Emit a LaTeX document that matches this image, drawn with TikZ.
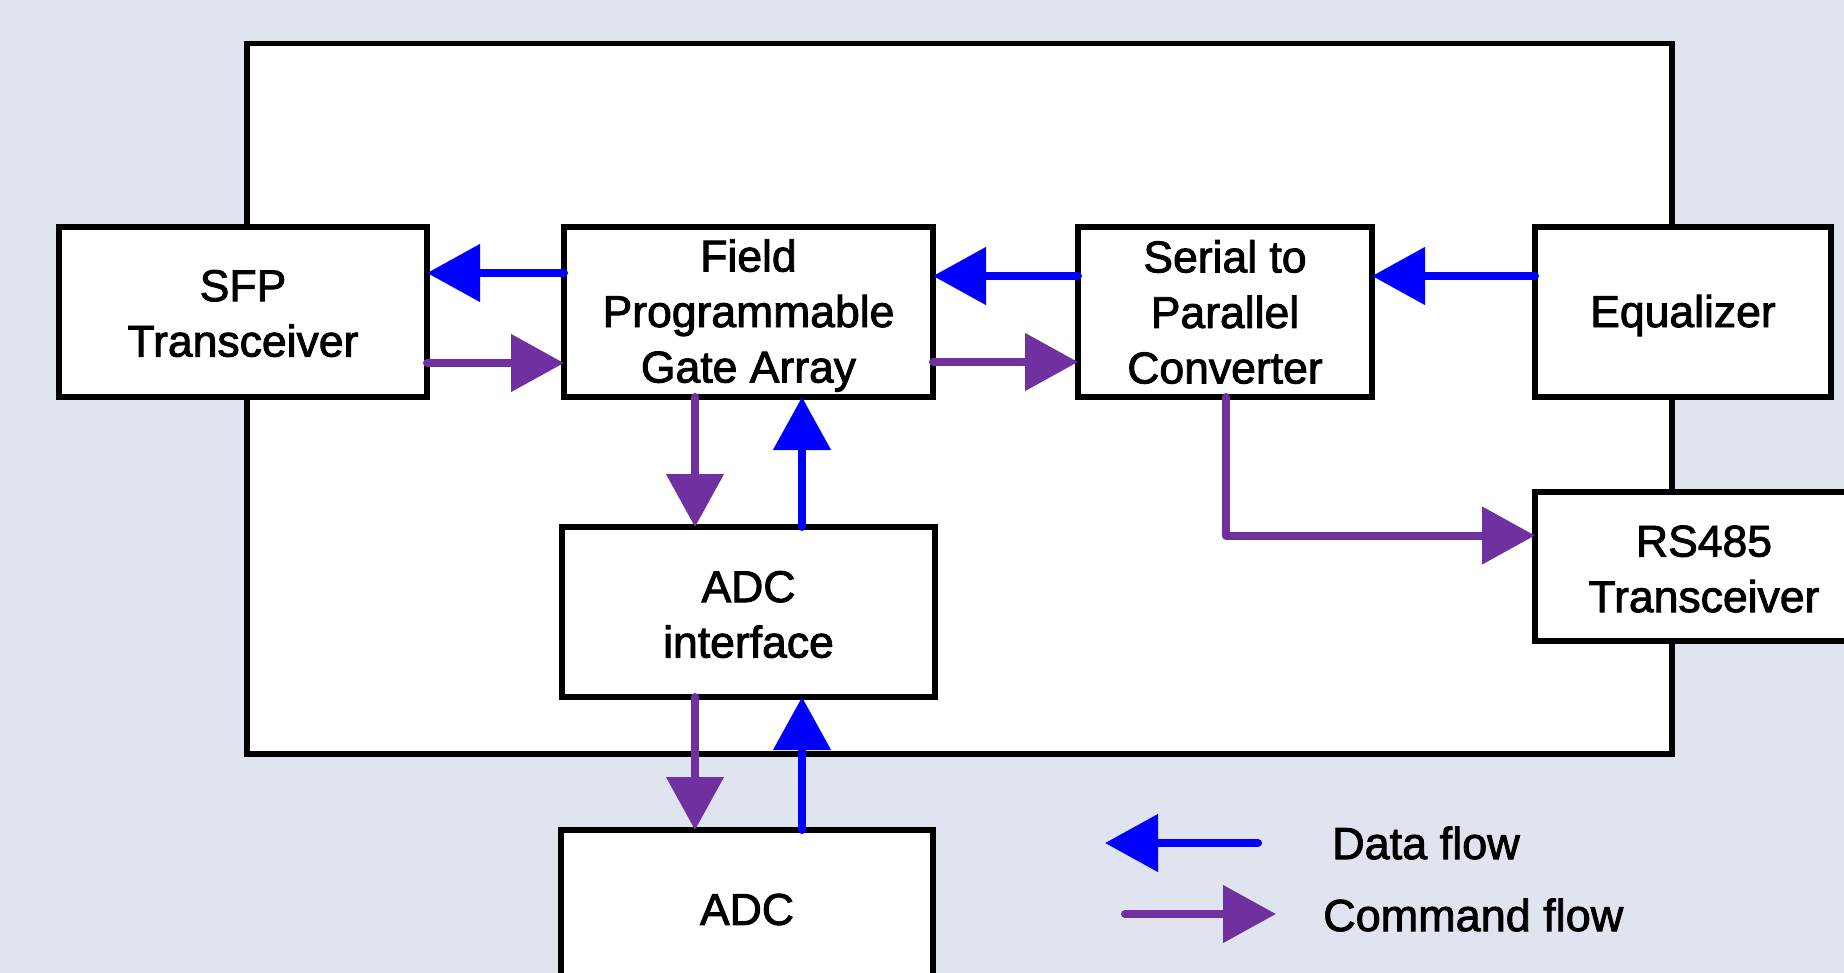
\documentclass[tikz,border=0pt]{standalone}
\usepackage{fontspec}
\setmainfont{Liberation Sans}
\newfontfamily\diagfont{Liberation Sans}[FakeBold=2]
\usetikzlibrary{arrows.meta,calc}
\definecolor{bgc}{RGB}{224,228,238}
\definecolor{dataC}{RGB}{0,0,255}
\definecolor{cmdC}{RGB}{112,48,160}
\tikzset{
  blk/.style={draw=black, line width=5.5pt, fill=white, inner sep=0pt, outer sep=0pt},
  btext/.style={yshift=-3.5pt, inner sep=0pt, align=center,
    font=\diagfont\fontsize{44.5}{55.5}\selectfont},
  dataarrow/.style={draw=dataC, line width=8pt, line cap=round,
    -{Triangle[length=53pt,width=56pt,fill=dataC]}},
  cmdarrow/.style={draw=cmdC, line width=8pt, line cap=round, line join=round,
    -{Triangle[length=53pt,width=56pt,fill=cmdC]}},
  legtext/.style={anchor=west, inner sep=0pt, font=\diagfont\fontsize{45}{55}\selectfont}
}
\begin{document}
\begin{tikzpicture}[x=1pt,y=1pt]
\useasboundingbox (0,0) rectangle (1844,-973);
\clip (0,0) rectangle (1844,-973);
\fill[bgc] (0,0) rectangle (1844,-973);
\draw[line width=5.5pt, fill=white] (247,-43.5) rectangle (1672,-754);

\node[blk, minimum width=368pt, minimum height=170pt,
  label={[btext, yshift=2pt]center:SFP\\Transceiver}] (sfp) at (243,-312) {};
\node[blk, minimum width=369pt, minimum height=170pt,
  label={[btext]center:Field\\Programmable\\Gate Array}] (fpga) at (748.5,-312) {};
\node[blk, minimum width=294pt, minimum height=170pt,
  label={[btext, yshift=3.5pt]center:Serial to\\Parallel\\Converter}] (s2p) at (1225,-312) {};
\node[blk, minimum width=296pt, minimum height=170pt,
  label={[btext]center:Equalizer}] (eq) at (1683,-312) {};
\node[blk, minimum width=338pt, minimum height=149pt,
  label={[btext, yshift=1pt]center:RS485\\Transceiver}] (rs) at (1704,-566.5) {};
\node[blk, minimum width=373pt, minimum height=170pt,
  label={[btext, yshift=1pt]center:ADC\\interface}] (adci) at (748.5,-612) {};
\node[blk, minimum width=372pt, minimum height=156pt,
  label={[btext, yshift=2pt]center:ADC}] (adc) at (747,-908) {};

% horizontal flows
\draw[dataarrow] ([yshift=39pt]fpga.west) -- ([yshift=39pt]sfp.east);
\draw[cmdarrow] ([yshift=-51pt]sfp.east) -- ([yshift=-51pt]fpga.west);
\draw[dataarrow] ([yshift=36pt]s2p.west) -- ([yshift=36pt]fpga.east);
\draw[cmdarrow] ([yshift=-50pt]fpga.east) -- ([yshift=-50pt]s2p.west);
\draw[dataarrow] ([yshift=36pt]eq.west) -- ([yshift=36pt]s2p.east);
\draw[cmdarrow] ([xshift=1pt]s2p.south) |- ([yshift=31pt]rs.west);

% vertical flows
\draw[cmdarrow] ([xshift=-53.5pt]fpga.south) -- ([xshift=-53.5pt]adci.north);
\draw[dataarrow] ([xshift=53.5pt]adci.north) -- ([xshift=53.5pt]fpga.south);
\draw[cmdarrow] ([xshift=-53.5pt]adci.south) -- ([xshift=-52pt]adc.north);
\draw[dataarrow] ([xshift=55pt]adc.north) -- ([xshift=53.5pt]adci.south);

% legend
\coordinate (dtail) at (1258,-843);
\coordinate (dtip) at (1105,-843);
\coordinate (ctail) at (1125,-914);
\coordinate (ctip) at (1276,-914);
\draw[dataarrow] (dtail) -- (dtip);
\draw[cmdarrow] (ctail) -- (ctip);
\node[legtext] (ldata) at (1332,-843) {Data flow};
\node[legtext] (lcmd) at (1323,-915) {Command flow};
\end{tikzpicture}
\end{document}
